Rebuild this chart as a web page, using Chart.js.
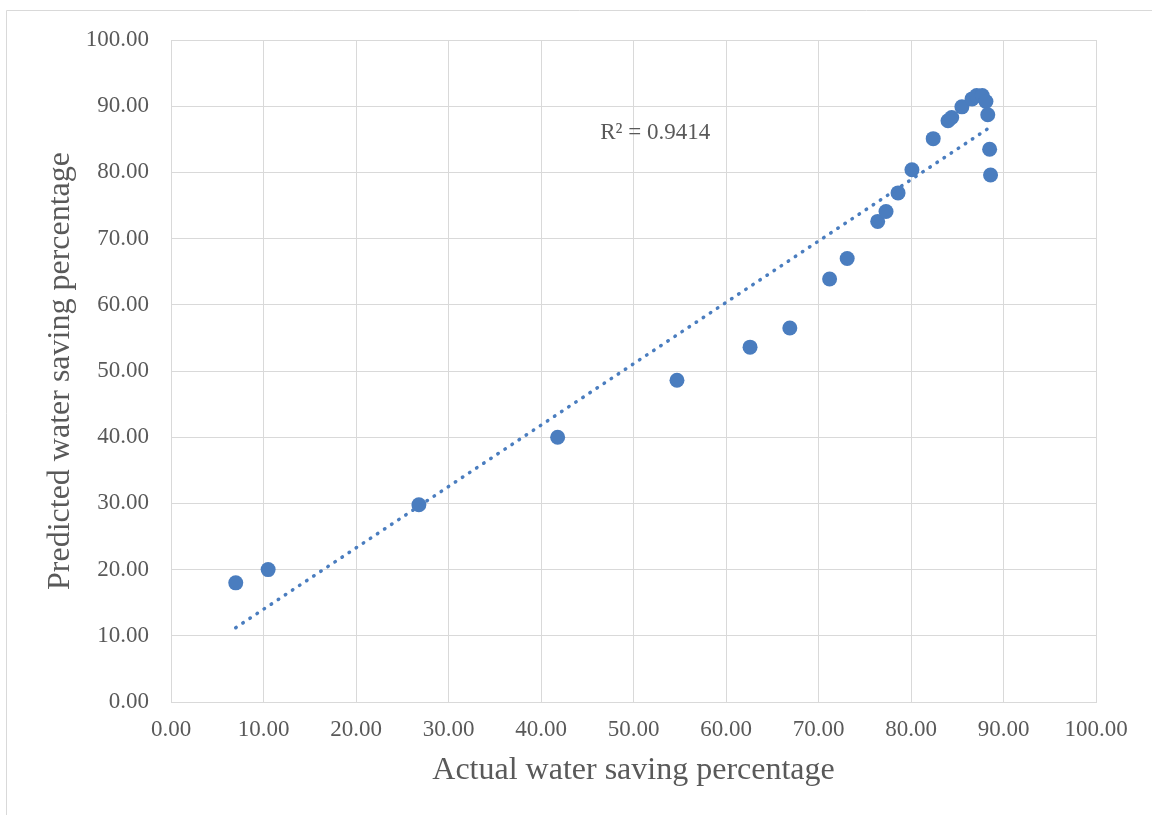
<!DOCTYPE html>
<html lang="en">
  <head>
    <meta charset="UTF-8" />
    <title>Water saving percentage</title>
    <script src="https://cdn.jsdelivr.net/npm/chart.js@4.4.0/dist/chart.umd.min.js"></script>
    <style>
      html, body { margin: 0; padding: 0; background: #fff; }
      #wrap { width: 1152px; height: 815px; }
    </style>
  </head>
  <body>
    <div id="wrap"><canvas id="chart" width="1152" height="815"></canvas></div>
    <script>
      var actual = [7.0, 10.5, 26.8, 41.8, 54.7, 62.6, 66.9, 71.2, 73.1, 76.4, 77.3, 78.6, 80.1, 82.4,
        84.0, 84.4, 85.5, 86.6, 87.1, 87.7, 88.1, 88.3, 88.5, 88.6];
      var predicted = [18.0, 20.0, 29.8, 40.0, 48.6, 53.6, 56.5, 63.9, 67.0, 72.6, 74.1, 76.9, 80.4, 85.1,
        87.8, 88.3, 89.9, 91.1, 91.6, 91.6, 90.7, 88.7, 83.5, 79.6];
      var r2Label = 'R² = 0.9414';

      var points = actual.map((x, i) => ({ x: x, y: predicted[i] }));

      // least squares fit for the dotted trendline
      function linearFit(xs, ys) {
        var n = xs.length;
        var mx = xs.reduce((a, b) => a + b, 0) / n;
        var my = ys.reduce((a, b) => a + b, 0) / n;
        var sxy = 0, sxx = 0;
        for (var i = 0; i < n; i++) {
          sxy += (xs[i] - mx) * (ys[i] - my);
          sxx += (xs[i] - mx) * (xs[i] - mx);
        }
        var slope = sxy / sxx;
        return { slope: slope, intercept: my - slope * mx };
      }
      var fit = linearFit(actual, predicted);
      var xMin = Math.min(...actual), xMax = Math.max(...actual);
      var trend = [xMin, xMax].map((x) => ({ x: x, y: fit.intercept + fit.slope * x }));

      var textColor = '#595959';
      var gridColor = '#d9d9d9';
      var serif = "'Liberation Serif', 'Times New Roman', serif";

      var frame = {
        id: 'frame',
        afterDraw(chart) {
          var ctx = chart.ctx;
          ctx.save();
          ctx.strokeStyle = gridColor;
          ctx.lineWidth = 1;
          ctx.beginPath();
          ctx.moveTo(6.5, 830);
          ctx.lineTo(6.5, 10.5);
          ctx.lineTo(1160, 10.5);
          ctx.stroke();
          // R² annotation
          var xs = chart.scales.x, ys = chart.scales.y;
          ctx.fillStyle = textColor;
          ctx.font = '23px ' + serif;
          ctx.textAlign = 'left';
          ctx.textBaseline = 'middle';
          ctx.fillText(r2Label, xs.getPixelForValue(46.4), ys.getPixelForValue(86.0));
          ctx.restore();
        }
      };

      new Chart(document.getElementById('chart'), {
        type: 'scatter',
        data: {
          datasets: [
            {
              label: 'Linear (trend)',
              data: trend,
              showLine: true,
              pointRadius: 0,
              borderColor: '#4a7dbf',
              borderWidth: 3.5,
              borderCapStyle: 'round',
              borderDash: [0.5, 8]
            },
            {
              label: 'Predicted',
              data: points,
              pointRadius: 7.5,
              pointHoverRadius: 7.5,
              backgroundColor: '#4a7dbf',
              borderColor: '#4a7dbf',
              borderWidth: 0
            }
          ]
        },
        options: {
          responsive: false,
          animation: false,
          layout: { padding: { left: 0, top: 40, right: 56, bottom: 0 } },
          plugins: { legend: { display: false }, tooltip: { enabled: false } },
          scales: {
            x: {
              min: 0,
              max: 100,
              afterFit(scale) { scale.height = 113; },
              grid: { color: gridColor, drawTicks: false },
              border: { color: gridColor },
              ticks: {
                stepSize: 10,
                padding: 14,
                color: textColor,
                font: { family: serif, size: 23 },
                maxRotation: 0,
                callback: (v) => v.toFixed(2)
              },
              title: {
                display: true,
                text: 'Actual water saving percentage',
                color: textColor,
                font: { family: serif, size: 32 },
                padding: { top: 0, bottom: 25 }
              }
            },
            y: {
              min: 0,
              max: 100,
              afterFit(scale) { scale.width = 171; },
              grid: { color: gridColor, drawTicks: false },
              border: { color: gridColor },
              ticks: {
                stepSize: 10,
                padding: 22,
                color: textColor,
                font: { family: serif, size: 23 },
                callback: (v) => v.toFixed(2)
              },
              title: {
                display: true,
                text: 'Predicted water saving percentage',
                color: textColor,
                font: { family: serif, size: 32 },
                padding: { top: 41, bottom: 0 }
              }
            }
          }
        },
        plugins: [frame]
      });
    </script>
  </body>
</html>
